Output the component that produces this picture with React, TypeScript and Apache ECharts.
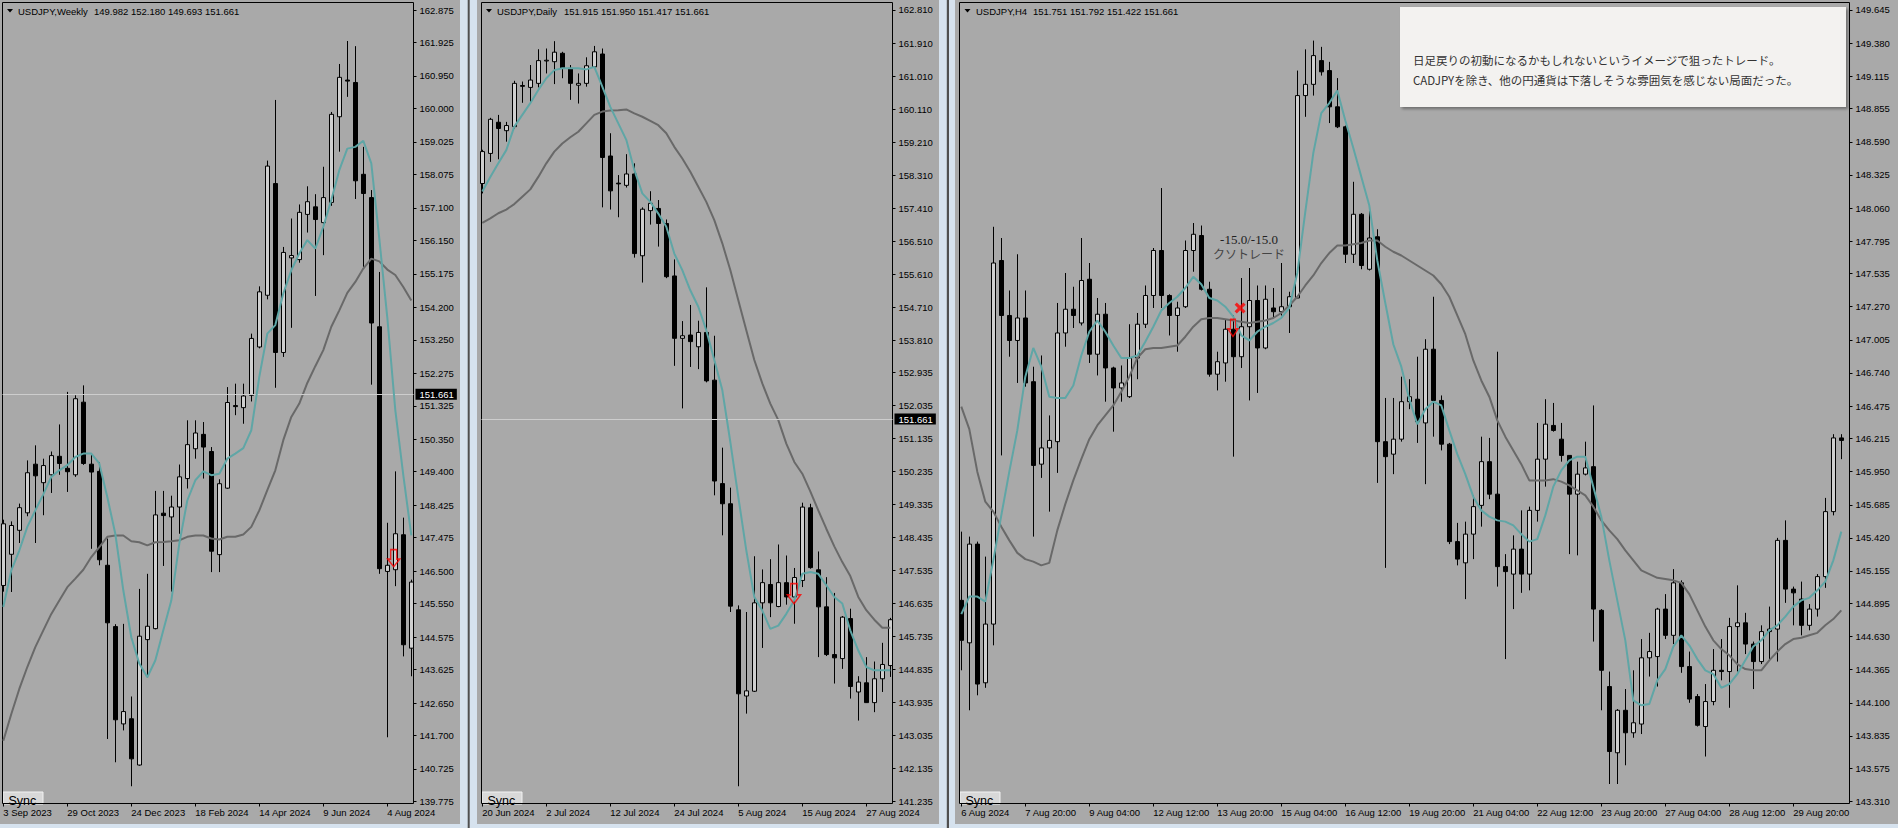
import React, { useEffect, useRef } from "react";
import * as echarts from "echarts";

// ---------- DATA ----------
// [open, high, low, close]
const weeklyOHLC: number[][] = [
  [146.08, 148.0, 145.9, 147.88], [146.99, 147.95, 145.89, 147.83], [147.69, 148.47, 147.32, 148.35],
  [148.2, 149.73, 148.1, 149.37], [149.62, 150.17, 147.32, 149.28], [149.08, 149.78, 148.13, 149.58],
  [149.31, 149.99, 148.78, 149.87], [149.85, 150.78, 149.31, 149.64], [149.5, 151.73, 148.81, 149.4],
  [149.31, 151.63, 149.25, 151.53], [151.43, 151.92, 149.6, 149.64], [149.62, 149.93, 147.15, 149.39],
  [149.41, 149.68, 146.67, 146.83], [146.67, 147.45, 141.6, 144.99], [144.88, 144.95, 140.92, 142.16],
  [142.04, 144.96, 141.85, 142.4], [142.19, 142.84, 140.22, 141.02], [140.84, 145.98, 140.82, 144.6],
  [144.5, 146.42, 143.4, 144.89], [144.82, 148.84, 144.8, 148.14], [148.19, 148.84, 146.65, 148.12],
  [148.08, 148.7, 145.9, 148.37], [148.37, 149.61, 147.59, 149.25], [149.2, 150.9, 148.91, 150.19],
  [150.07, 150.9, 149.78, 150.53], [150.49, 150.85, 149.2, 150.12], [149.99, 150.12, 146.47, 147.08],
  [146.98, 149.18, 146.47, 149.05], [148.92, 151.87, 148.9, 151.42], [151.33, 151.97, 151.05, 151.3],
  [151.27, 151.97, 150.8, 151.61], [151.63, 153.43, 151.45, 153.29], [153.04, 154.81, 153.0, 154.65],
  [154.55, 158.48, 154.43, 158.32], [157.81, 160.25, 151.85, 152.88], [152.88, 155.96, 152.75, 155.8],
  [155.64, 156.79, 153.6, 155.71], [155.59, 157.2, 155.5, 156.97], [156.91, 157.73, 156.38, 157.28],
  [157.13, 157.5, 154.53, 156.76], [156.67, 158.3, 155.72, 157.4], [157.26, 159.9, 157.16, 159.83],
  [159.76, 161.3, 158.74, 160.91], [160.83, 161.97, 160.34, 160.8], [160.76, 161.82, 157.36, 157.89],
  [158.08, 158.88, 155.38, 157.52], [157.4, 157.62, 151.94, 153.74], [153.63, 155.23, 146.42, 146.57],
  [146.49, 147.91, 141.65, 146.67], [146.54, 149.41, 146.06, 147.59], [147.56, 148.06, 144.01, 144.35],
  [144.25, 146.25, 143.43, 146.18],
];
const weeklyFastMA: number[] = [
  145.45, 146.52, 147.1, 147.79, 148.27, 148.74, 149.25, 149.44, 149.59, 149.83, 149.93, 149.93, 149.64,
  148.66, 147.59, 145.94, 144.57, 143.8, 143.4, 143.89, 144.77, 145.64, 147.3, 148.56, 149.15, 149.41,
  149.3, 149.34, 149.78, 149.93, 150.09, 150.61, 152.17, 153.43, 153.68, 154.6, 155.28, 155.77, 156.16,
  155.91, 156.55, 157.33, 158.2, 158.83, 158.88, 159.06, 158.4, 156.2, 153.9, 151.2, 149.3, 147.54,
];
const weeklySlowMA: number[] = [
  141.55, 142.33, 143.06, 143.7, 144.28, 144.77, 145.25, 145.64, 146.03, 146.28, 146.54, 146.91, 147.2,
  147.5, 147.54, 147.54, 147.37, 147.34, 147.25, 147.34, 147.35, 147.37, 147.4, 147.5, 147.54, 147.54,
  147.45, 147.42, 147.5, 147.5, 147.57, 147.79, 148.27, 148.86, 149.44, 150.32, 151.0, 151.39, 151.99,
  152.48, 152.95, 153.63, 154.11, 154.62, 154.94, 155.33, 155.62, 155.54, 155.3, 155.14, 154.79, 154.4,
];
const weeklyPriceTicks: number[] = [
  162.875, 161.925, 160.95, 160.0, 159.025, 158.075, 157.1, 156.15, 155.175, 154.2, 153.25, 152.275,
  151.325, 150.35, 149.4, 148.425, 147.475, 146.5, 145.55, 144.575, 143.625, 142.65, 141.7, 140.725, 139.775,
];
const weeklyDateLabels: string[] = ["3 Sep 2023", "29 Oct 2023", "24 Dec 2023", "18 Feb 2024", "14 Apr 2024", "9 Jun 2024", "4 Aug 2024"];

const dailyOHLC: number[][] = [
  [158.08, 159.0, 157.81, 158.95], [158.9, 159.87, 158.67, 159.83], [159.75, 159.95, 158.74, 159.58],
  [159.52, 159.76, 159.22, 159.66], [159.63, 160.88, 159.58, 160.81], [160.75, 160.86, 160.28, 160.73],
  [160.7, 161.31, 160.27, 160.9], [160.81, 161.74, 160.7, 161.43], [161.42, 161.76, 161.08, 161.44],
  [161.4, 161.96, 160.79, 161.66], [161.63, 161.67, 160.95, 161.22], [161.22, 161.31, 160.36, 160.81],
  [160.76, 161.08, 160.26, 160.81], [160.81, 161.52, 160.72, 161.29], [161.26, 161.83, 161.22, 161.67],
  [161.61, 161.76, 157.43, 158.79], [158.83, 159.45, 157.37, 157.88], [158.09, 158.31, 157.16, 158.07],
  [158.03, 158.88, 157.97, 158.34], [158.34, 158.63, 156.06, 156.17], [156.11, 157.43, 155.38, 157.38],
  [157.34, 157.87, 156.96, 157.54], [157.4, 157.63, 156.36, 156.99], [156.99, 157.1, 155.5, 155.54],
  [155.56, 156.01, 153.11, 153.86], [153.86, 154.33, 151.95, 153.93], [153.95, 154.77, 153.08, 153.77],
  [153.63, 154.34, 153.02, 154.02], [154.02, 155.25, 152.66, 152.7], [152.72, 153.93, 149.58, 149.97],
  [149.9, 150.88, 148.49, 149.35], [149.35, 149.79, 146.4, 146.56], [146.46, 146.58, 141.65, 144.17],
  [144.11, 146.4, 143.63, 144.25], [144.24, 147.92, 144.22, 146.65], [146.65, 147.56, 145.42, 147.2],
  [147.15, 147.84, 146.26, 146.65], [146.55, 148.24, 146.53, 147.2], [147.2, 147.94, 146.6, 146.81],
  [146.81, 147.6, 146.08, 147.34], [147.26, 149.38, 147.08, 149.26], [149.24, 149.35, 147.58, 147.61],
  [147.55, 148.05, 145.17, 146.54], [146.54, 147.35, 145.2, 145.24], [145.24, 146.92, 144.45, 145.15],
  [145.13, 146.29, 144.85, 146.26], [146.22, 146.49, 144.04, 144.37], [144.22, 144.65, 143.44, 144.49],
  [144.47, 145.17, 143.92, 143.93], [143.93, 145.05, 143.67, 144.58], [144.58, 145.56, 144.22, 144.97],
  [144.94, 146.24, 144.63, 146.19],
];
const dailyFastMA: number[] = [
  157.86, 158.26, 158.63, 158.99, 159.63, 159.95, 160.27, 160.63, 160.95, 161.17, 161.22, 161.22, 161.22,
  161.19, 161.26, 160.72, 160.17, 159.72, 159.27, 158.45, 157.81, 157.58, 157.26, 156.9, 156.17, 155.72,
  155.17, 154.72, 154.08, 153.27, 152.45, 151.04, 149.54, 148.08, 146.81, 146.44, 145.94, 146.03, 146.35,
  146.72, 147.44, 147.49, 147.44, 147.13, 146.81, 146.63, 145.9, 145.35, 144.9, 144.81, 144.81, 144.81,
];
const dailySlowMA: number[] = [
  157.01, 157.13, 157.27, 157.37, 157.52, 157.72, 157.92, 158.26, 158.63, 158.95, 159.17, 159.34, 159.49,
  159.72, 159.95, 160.04, 160.07, 160.08, 160.1, 159.99, 159.9, 159.79, 159.67, 159.45, 159.08, 158.76,
  158.4, 157.99, 157.58, 157.08, 156.45, 155.72, 154.9, 154.08, 153.27, 152.63, 152.08, 151.63, 150.99,
  150.49, 150.17, 149.69, 149.17, 148.67, 148.19, 147.76, 147.38, 146.81, 146.45, 146.19, 145.97, 145.97,
];
const dailyPriceTicks: number[] = [
  162.81, 161.91, 161.01, 160.11, 159.21, 158.31, 157.41, 156.51, 155.61, 154.71, 153.81, 152.935, 152.035,
  151.135, 150.235, 149.335, 148.435, 147.535, 146.635, 145.735, 144.835, 143.935, 143.035, 142.135, 141.235,
];
const dailyDateLabels: string[] = ["20 Jun 2024", "2 Jul 2024", "12 Jul 2024", "24 Jul 2024", "5 Aug 2024", "15 Aug 2024", "27 Aug 2024"];

const h4OHLC: number[][] = [
  [144.92, 145.47, 144.36, 144.6], [144.58, 145.43, 144.04, 145.37], [145.37, 145.39, 144.16, 144.25],
  [144.26, 145.27, 144.22, 144.73], [144.73, 147.91, 144.56, 147.62], [147.64, 147.82, 146.08, 147.2],
  [147.2, 147.4, 146.87, 147.0], [147.0, 147.69, 146.66, 147.18], [147.18, 147.4, 146.63, 146.66],
  [146.67, 146.79, 145.43, 146.0], [146.01, 146.88, 145.9, 146.14], [146.14, 146.4, 145.63, 146.2],
  [146.19, 147.3, 145.94, 147.06], [147.06, 147.54, 146.95, 147.25], [147.25, 147.43, 147.1, 147.2],
  [147.14, 147.82, 147.12, 147.48], [147.49, 147.62, 146.82, 146.89], [146.89, 147.34, 146.72, 147.21],
  [147.21, 147.3, 146.51, 146.78], [146.78, 146.79, 146.27, 146.62], [146.62, 146.8, 146.51, 146.66],
  [146.55, 147.13, 146.54, 146.86], [146.86, 147.22, 146.69, 147.13], [147.13, 147.44, 147.1, 147.36],
  [147.36, 147.74, 147.26, 147.72], [147.72, 148.22, 147.26, 147.36], [147.36, 147.37, 147.04, 147.2],
  [147.2, 147.31, 146.91, 147.26], [147.27, 147.8, 147.26, 147.72], [147.72, 147.94, 147.55, 147.85],
  [147.84, 147.92, 147.4, 147.41], [147.41, 147.47, 146.71, 146.73], [146.73, 146.91, 146.6, 146.83],
  [146.82, 147.17, 146.67, 147.09], [147.09, 147.2, 146.07, 146.87], [146.87, 147.5, 146.78, 147.11],
  [147.11, 147.58, 146.52, 147.32], [147.32, 147.44, 146.58, 146.94], [146.94, 147.44, 146.93, 147.33],
  [147.26, 147.42, 147.18, 147.23], [147.23, 147.62, 147.2, 147.27], [147.27, 147.39, 147.06, 147.35],
  [147.34, 149.16, 147.34, 148.96], [148.96, 149.33, 148.79, 149.05], [149.05, 149.4, 148.96, 149.28],
  [149.24, 149.35, 149.12, 149.15], [149.16, 149.23, 148.74, 148.87], [148.87, 149.1, 148.7, 148.71],
  [148.71, 148.72, 147.62, 147.69], [147.69, 148.27, 147.62, 148.01], [148.01, 148.02, 147.57, 147.6],
  [147.57, 148.06, 147.56, 147.82], [147.83, 147.89, 145.86, 146.19], [146.19, 146.54, 145.18, 146.07],
  [146.09, 146.54, 145.93, 146.21], [146.21, 146.71, 146.19, 146.51], [146.51, 146.69, 146.45, 146.55],
  [146.53, 146.87, 146.18, 146.35], [146.34, 147.01, 145.85, 146.93], [146.93, 147.35, 146.23, 146.52],
  [146.52, 146.56, 146.12, 146.17], [146.17, 146.18, 145.37, 145.39], [145.39, 145.54, 145.2, 145.25],
  [145.22, 145.55, 144.93, 145.45], [145.45, 145.76, 145.25, 145.67], [145.68, 146.23, 145.51, 146.03],
  [146.03, 146.22, 145.73, 145.77], [145.77, 146.91, 145.03, 145.19], [145.19, 145.29, 144.45, 145.15],
  [145.13, 145.44, 144.85, 145.33], [145.33, 145.64, 144.98, 145.13], [145.13, 145.67, 145.0, 145.64],
  [145.64, 146.34, 145.55, 146.05], [146.05, 146.53, 145.83, 146.33], [146.32, 146.5, 146.27, 146.28],
  [146.21, 146.34, 146.03, 146.08], [146.08, 146.08, 145.29, 145.77], [145.77, 146.03, 145.28, 145.93],
  [145.93, 146.19, 145.92, 145.98], [145.99, 146.48, 144.59, 144.85], [144.84, 144.85, 144.04, 144.36],
  [144.23, 144.35, 143.45, 143.71], [143.7, 144.05, 143.45, 144.04], [144.04, 144.21, 143.6, 143.86],
  [143.86, 144.36, 143.82, 143.94], [143.93, 144.61, 143.85, 144.46], [144.46, 144.66, 144.31, 144.51],
  [144.47, 144.86, 144.23, 144.85], [144.85, 144.97, 144.61, 144.64], [144.64, 145.17, 144.57, 145.06],
  [145.06, 145.08, 144.34, 144.39], [144.39, 144.51, 144.1, 144.13], [144.15, 144.17, 143.91, 143.92],
  [143.91, 144.25, 143.67, 144.11], [144.11, 144.53, 144.08, 144.36], [144.36, 144.61, 144.28, 144.35],
  [144.35, 144.78, 144.06, 144.71], [144.71, 145.04, 144.35, 144.74], [144.74, 144.82, 144.49, 144.57],
  [144.57, 144.59, 144.21, 144.43], [144.43, 144.72, 144.41, 144.67], [144.67, 144.87, 144.45, 144.69],
  [144.69, 145.42, 144.43, 145.4], [145.4, 145.56, 144.9, 145.01], [145.01, 145.03, 144.72, 144.98],
  [144.93, 145.07, 144.64, 144.72], [144.72, 144.89, 144.68, 144.85], [144.85, 145.13, 144.79, 145.11],
  [145.11, 145.74, 145.02, 145.63], [145.63, 146.25, 145.6, 146.22], [146.22, 146.25, 146.05, 146.2],
];
const h4FastMA: number[] = [
  144.81, 144.95, 144.95, 144.91, 145.24, 145.6, 145.95, 146.28, 146.71, 146.94, 146.79, 146.55, 146.54,
  146.54, 146.64, 146.88, 147.07, 147.16, 147.07, 146.96, 146.86, 146.86, 146.88, 146.99, 147.11, 147.24,
  147.3, 147.35, 147.42, 147.51, 147.45, 147.34, 147.32, 147.27, 147.19, 147.04, 147.0, 147.07, 147.11,
  147.14, 147.18, 147.26, 147.54, 148.03, 148.5, 148.82, 148.9, 149.0, 148.76, 148.54, 148.31, 148.08,
  147.64, 147.3, 146.97, 146.79, 146.53, 146.33, 146.45, 146.51, 146.48, 146.28, 146.09, 145.93, 145.75,
  145.64, 145.59, 145.56, 145.55, 145.52, 145.45, 145.39, 145.41, 145.6, 145.83, 145.96, 146.04, 146.07,
  146.07, 145.83, 145.59, 145.24, 144.92, 144.6, 144.12, 144.08, 144.09, 144.28, 144.37, 144.55, 144.64,
  144.56, 144.45, 144.36, 144.33, 144.22, 144.25, 144.33, 144.44, 144.55, 144.6, 144.68, 144.72, 144.79,
  144.87, 144.92, 144.94, 145.0, 145.07, 145.24, 145.47,
];
const h4SlowMA: number[] = [
  146.47, 146.29, 145.95, 145.71, 145.63, 145.51, 145.4, 145.3, 145.25, 145.23, 145.2, 145.22, 145.48,
  145.69, 145.88, 146.05, 146.21, 146.32, 146.4, 146.48, 146.59, 146.71, 146.86, 146.93, 146.94, 146.94,
  146.95, 146.96, 147.03, 147.11, 147.17, 147.18, 147.18, 147.17, 147.16, 147.15, 147.14, 147.15, 147.16,
  147.18, 147.22, 147.28, 147.35, 147.44, 147.52, 147.62, 147.7, 147.76, 147.76, 147.77, 147.78, 147.8,
  147.8, 147.75, 147.71, 147.68, 147.64, 147.6, 147.56, 147.52, 147.45, 147.35, 147.2, 147.05, 146.84,
  146.68, 146.55, 146.36, 146.23, 146.12, 146.01, 145.88, 145.88, 145.88, 145.89, 145.87, 145.84, 145.8,
  145.76, 145.67, 145.56, 145.48, 145.41, 145.32, 145.24, 145.16, 145.13, 145.1, 145.09, 145.08, 145.06,
  144.97, 144.84, 144.71, 144.6, 144.53, 144.48, 144.41, 144.37, 144.36, 144.36, 144.44, 144.51, 144.57,
  144.61, 144.62, 144.64, 144.66, 144.72, 144.77, 144.84,
];
const h4PriceTicks: number[] = [
  149.645, 149.38, 149.115, 148.855, 148.59, 148.325, 148.06, 147.795, 147.535, 147.27, 147.005, 146.74,
  146.475, 146.215, 145.95, 145.685, 145.42, 145.155, 144.895, 144.63, 144.365, 144.1, 143.835, 143.575, 143.31,
];
const h4DateLabels: string[] = [
  "6 Aug 2024", "7 Aug 20:00", "9 Aug 04:00", "12 Aug 12:00", "13 Aug 20:00", "15 Aug 04:00", "16 Aug 12:00",
  "19 Aug 20:00", "21 Aug 04:00", "22 Aug 12:00", "23 Aug 20:00", "27 Aug 04:00", "28 Aug 12:00", "29 Aug 20:00",
];

const currentPrice = 151.661;
const headers: string[][] = [
  ["USDJPY,Weekly", "149.982 152.180 149.693 151.661"],
  ["USDJPY,Daily", "151.915 151.950 151.417 151.661"],
  ["USDJPY,H4", "151.751 151.792 151.422 151.661"],
];
// trade marks: [barIndex, price]
const weeklyArrow: number[] = [48.8, 146.88];
const dailyArrow: number[] = [38.96, 146.9];
const h4Arrow: number[] = [33.96, 147.1];
const h4Cross: number[] = [34.85, 147.26];
const tradeResult = "-15.0/-15.0";
const tradeTag = "クソトレード";
const noteLines: string[] = [
  "日足戻りの初動になるかもしれないというイメージで狙ったトレード。",
  "CADJPYを除き、他の円通貨は下落しそうな雰囲気を感じない局面だった。",
];

// ---------- LAYOUT ----------
const FONT = "'Liberation Sans', Arial, sans-serif";
const FS = 9.5;
const PANEL_BG = "#a9a9a9";
const LABEL_EVERY = 8;
const panels = [
  { left: 2.5, width: 411, xMin: -0.1, xMax: 51.275, yMin: 139.717, yMax: 163.094, bgX: 0, bgW: 460, header: 18, tri: 7 },
  { left: 481.5, width: 411, xMin: -0.1, xMax: 51.275, yMin: 141.18, yMax: 163.014, bgX: 477, bgW: 462, header: 497, tri: 486 },
  { left: 959.5, width: 890, xMin: -0.225, xMax: 111.025, yMin: 143.294, yMax: 149.705, bgX: 955, bgW: 943, header: 976, tri: 964.5 },
];
const numbersX = [94, 564, 1033];

const ARROW = "path://M3,0 L9,0 L9,9 L12,9 L6,16 L0,9 L3,9 Z";
const CROSS = "path://M0,2 L2,0 L5,3 L8,0 L10,2 L7,5 L10,8 L8,10 L5,7 L2,10 L0,8 L3,5 Z";

function buildOption() {
  const datasets = [
    { ohlc: weeklyOHLC, fast: weeklyFastMA, slow: weeklySlowMA, ticks: weeklyPriceTicks, dates: weeklyDateLabels },
    { ohlc: dailyOHLC, fast: dailyFastMA, slow: dailySlowMA, ticks: dailyPriceTicks, dates: dailyDateLabels },
    { ohlc: h4OHLC, fast: h4FastMA, slow: h4SlowMA, ticks: h4PriceTicks, dates: h4DateLabels },
  ];
  const grid: any[] = [];
  const xAxis: any[] = [];
  const yAxis: any[] = [];
  const series: any[] = [];
  datasets.forEach((d, k) => {
    const p = panels[k];
    grid.push({
      left: p.left, top: 2.5, width: p.width, height: 801,
      show: true, borderColor: "#000", borderWidth: 1, backgroundColor: "transparent",
    });
    const dateIdx = d.dates.map((_, j) => j * LABEL_EVERY);
    xAxis.push({
      type: "value", gridIndex: k, min: p.xMin, max: p.xMax, position: "bottom",
      axisLine: { show: false, onZero: false }, splitLine: { show: false },
      axisTick: { show: true, customValues: dateIdx, length: 3, lineStyle: { color: "#000" } },
      axisLabel: {
        customValues: dateIdx, formatter: (v: number) => d.dates[Math.round(v / LABEL_EVERY)] ?? "",
        align: "left", margin: 4, color: "#000", fontSize: FS, fontFamily: FONT,
      },
    });
    yAxis.push({
      type: "value", gridIndex: k, position: "right", min: p.yMin, max: p.yMax, scale: true,
      axisLine: { show: false, onZero: false }, splitLine: { show: false },
      axisTick: { show: true, customValues: d.ticks, length: 3, lineStyle: { color: "#000" } },
      axisLabel: {
        customValues: d.ticks, formatter: (v: number) => v.toFixed(3),
        margin: 6, color: "#000", fontSize: FS, fontFamily: FONT,
      },
    });
    const showPrice = currentPrice <= p.yMax && currentPrice >= p.yMin;
    series.push({
      type: "candlestick", xAxisIndex: k, yAxisIndex: k, barWidth: 5, z: 2,
      data: d.ohlc.map((r, i) => [i, r[0], r[3], r[2], r[1]]),
      itemStyle: { color: "#cfcfcf", color0: "#000", borderColor: "#000", borderColor0: "#000", borderWidth: 1 },
      markLine: showPrice ? {
        silent: true, symbol: "none", animation: false,
        lineStyle: { color: "#cdcdcd", width: 1, type: "solid" },
        label: {
          show: true, position: "end", formatter: currentPrice.toFixed(3), distance: 2,
          backgroundColor: "#000", color: "#fff", padding: [1, 3, 0, 4], fontSize: FS, fontFamily: FONT,
        },
        data: [{ yAxis: currentPrice }],
      } : undefined,
    });
    series.push({
      type: "line", xAxisIndex: k, yAxisIndex: k, showSymbol: false, z: 4,
      data: d.slow.map((v, i) => [i, v]), lineStyle: { color: "#696969", width: 2 },
    });
    series.push({
      type: "line", xAxisIndex: k, yAxisIndex: k, showSymbol: false, z: 5,
      data: d.fast.map((v, i) => [i, v]), lineStyle: { color: "#5fa6a6", width: 2 },
    });
  });
  const arrowStyle = { color: "rgba(0,0,0,0)", borderColor: "#ff0000", borderWidth: 1.5 };
  series.push({ type: "scatter", xAxisIndex: 0, yAxisIndex: 0, z: 6, symbol: ARROW, symbolSize: [12, 17], itemStyle: arrowStyle, data: [weeklyArrow] });
  series.push({ type: "scatter", xAxisIndex: 1, yAxisIndex: 1, z: 6, symbol: ARROW, symbolSize: [13, 20], itemStyle: arrowStyle, data: [dailyArrow] });
  series.push({ type: "scatter", xAxisIndex: 2, yAxisIndex: 2, z: 6, symbol: ARROW, symbolSize: [10, 17], itemStyle: arrowStyle, data: [h4Arrow] });
  series.push({ type: "scatter", xAxisIndex: 2, yAxisIndex: 2, z: 7, symbol: CROSS, symbolSize: 11, itemStyle: { color: "#ff0000" }, data: [h4Cross] });

  const txt = (text: string, x: number, y: number, extra: any = {}) => ({
    type: "text", z: 50,
    style: { text, x, y, fill: "#000", font: `${FS}px ${FONT}`, align: "left", verticalAlign: "middle", textAlign: "left", textVerticalAlign: "middle", ...extra },
  });
  const graphic: any[] = [];
  panels.forEach((p, k) => {
    graphic.push({ type: "rect", z: -100, shape: { x: p.bgX, y: 0, width: p.bgW, height: 824 }, style: { fill: PANEL_BG } });
    graphic.push({ type: "polygon", z: 50, shape: { points: [[p.tri, 9], [p.tri + 6, 9], [p.tri + 3, 12.5]] }, style: { fill: "#000" } });
    graphic.push(txt(headers[k][0], p.header, 11));
    graphic.push(txt(headers[k][1], numbersX[k], 11));
    const bx = p.left + 0.5;
    graphic.push({ type: "rect", z: -5, shape: { x: bx, y: 792, width: 40, height: 12 }, style: { fill: "#d8d8d8", stroke: "#f2f2f2", lineWidth: 1 } });
    graphic.push({ type: "text", z: -4, style: { text: "Sync", x: bx + 5.5, y: 794, fill: "#000", font: `12.5px ${FONT}`, align: "left", verticalAlign: "top", textAlign: "left", textVerticalAlign: "top" } });
  });
  graphic.push({ type: "rect", z: -90, shape: { x: 467.7, y: 0, width: 2, height: 828 }, style: { fill: "#4f4f4f" } });
  graphic.push({ type: "rect", z: -90, shape: { x: 946.8, y: 0, width: 2.2, height: 828 }, style: { fill: "#4f4f4f" } });
  // note box
  graphic.push({
    type: "rect", z: 40, shape: { x: 1400, y: 7, width: 446, height: 100 },
    style: { fill: "#f3f2f0", shadowBlur: 3, shadowOffsetX: 2, shadowOffsetY: 2, shadowColor: "rgba(0,0,0,0.35)" },
  });
  graphic.push(txt(noteLines[0], 1413, 60, { font: "11.5px 'Noto Sans CJK JP', sans-serif", fill: "#333" }));
  graphic.push(txt(noteLines[1], 1413, 80, { font: "11.5px 'Noto Sans CJK JP', sans-serif", fill: "#333" }));
  graphic.push(txt(tradeResult, 1249, 239, { font: "13px 'Liberation Serif', serif", fill: "#222", align: "center", textAlign: "center" }));
  graphic.push(txt(tradeTag, 1249, 253, { font: "12px 'Noto Sans CJK JP', sans-serif", fill: "#444", align: "center", textAlign: "center" }));

  return {
    animation: false,
    backgroundColor: "transparent",
    textStyle: { fontFamily: FONT },
    grid, xAxis, yAxis, series, graphic,
  };
}

export default function App() {
  const ref = useRef<HTMLDivElement>(null);
  useEffect(() => {
    if (!ref.current) return;
    const chart = echarts.init(ref.current, null, { renderer: "svg" });
    chart.setOption(buildOption() as any);
    return () => chart.dispose();
  }, []);
  return (
    <div
      ref={ref}
      style={{ position: "fixed", left: 0, top: 0, width: 1898, height: 828, background: "#d6e2ee" }}
    />
  );
}
